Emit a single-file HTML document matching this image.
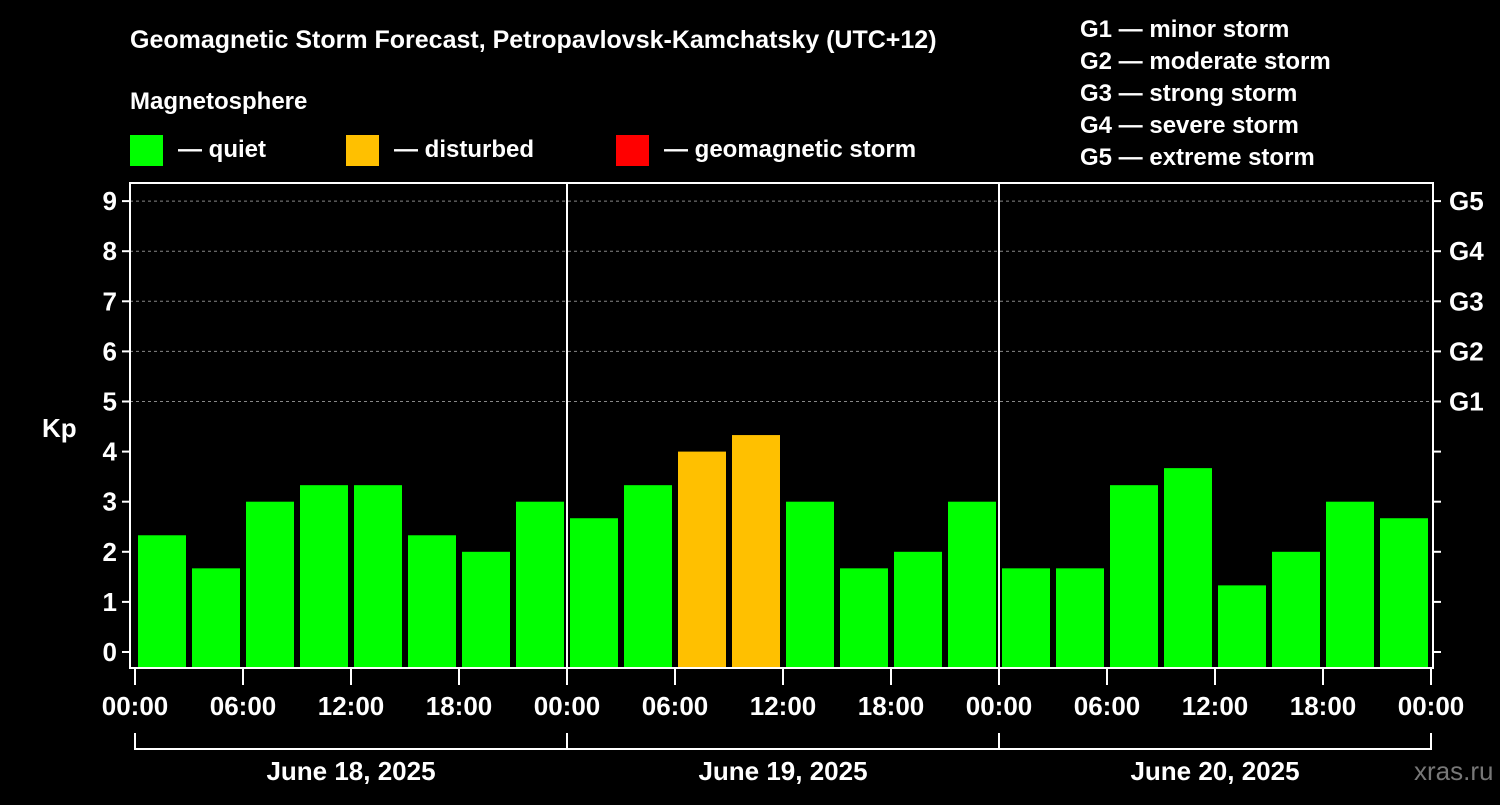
<!DOCTYPE html>
<html><head><meta charset="utf-8"><style>
body{margin:0;background:#000;width:1500px;height:800px;overflow:hidden}
svg text{font-family:"Liberation Sans",sans-serif;font-weight:bold;fill:#fff}
</style></head><body>
<svg id="c" width="1500" height="800" xmlns="http://www.w3.org/2000/svg">
<text x="130" y="48" font-size="25">Geomagnetic Storm Forecast, Petropavlovsk-Kamchatsky (UTC+12)</text>
<text x="130" y="109" font-size="24">Magnetosphere</text>
<rect x="130" y="135" width="33" height="31" fill="#00ff00"/>
<text x="178" y="157" font-size="24">— quiet</text>
<rect x="346" y="135" width="33" height="31" fill="#ffc000"/>
<text x="394" y="157" font-size="24">— disturbed</text>
<rect x="616" y="135" width="33" height="31" fill="#ff0000"/>
<text x="664" y="157" font-size="24">— geomagnetic storm</text>
<g font-size="24">
<text x="1080" y="37">G1 — minor storm</text>
<text x="1080" y="69">G2 — moderate storm</text>
<text x="1080" y="101">G3 — strong storm</text>
<text x="1080" y="133">G4 — severe storm</text>
<text x="1080" y="165">G5 — extreme storm</text>
</g>
<text x="42" y="437" font-size="26">Kp</text>
<text x="1414" y="780" font-size="26" fill="#777" style="fill:#777;font-weight:normal">xras.ru</text>
<g id="plot"></g>
</svg>
<script>
const values=[2.33,1.67,3,3.33,3.33,2.33,2,3, 2.67,3.33,4,4.33,3,1.67,2,3, 1.67,1.67,3.33,3.67,1.33,2,3,2.67];
const yTicks=[0,1,2,3,4,5,6,7,8,9];
const gLabels=["G1","G2","G3","G4","G5"];
const xLabels=["00:00","06:00","12:00","18:00","00:00","06:00","12:00","18:00","00:00","06:00","12:00","18:00","00:00"];
const days=["June 18, 2025","June 19, 2025","June 20, 2025"];
const NS="http://www.w3.org/2000/svg";
const g=document.getElementById('plot');
const L=130,R=1433,T=183,B=668;
function y(v){return 652-50.1*v;}
function x(h){return 135+18*h;}
function mk(t,a){const e=document.createElementNS(NS,t);for(const k in a)e.setAttribute(k,a[k]);g.appendChild(e);return e;}
for(let v=5;v<=9;v++){const e=mk('line',{x1:L,x2:R,y1:y(v),y2:y(v),stroke:'#888','stroke-dasharray':'3,3','stroke-width':1});

}
values.forEach((v,i)=>{
 const e=mk('rect',{x:x(i*3)+3,y:y(v),width:48,height:B-y(v),fill:v>=5?'#ff0000':(v>=4?'#ffc000':'#00ff00')});
 
 
});
[1,2].forEach(d=>{const e=mk('line',{x1:x(d*24),x2:x(d*24),y1:T,y2:B,stroke:'#fff','stroke-width':2});

});
const fr=mk('rect',{x:L,y:T,width:R-L,height:B-T,fill:'none',stroke:'#fff','stroke-width':2});


yTicks.forEach(v=>{
 mk('line',{x1:L-8,x2:L,y1:y(v),y2:y(v),stroke:'#fff','stroke-width':2});
 mk('line',{x1:R,x2:R+8,y1:y(v),y2:y(v),stroke:'#fff','stroke-width':2});
 const t=mk('text',{x:L-13,y:y(v)+9,'font-size':26,'text-anchor':'end'});t.textContent=v;
 
 
 if(v>=5){const r=mk('text',{x:1449,y:y(v)+9,'font-size':26});r.textContent=gLabels[v-5];
 
 }
});
xLabels.forEach((s,i)=>{
 mk('line',{x1:x(i*6),x2:x(i*6),y1:B,y2:B+17,stroke:'#fff','stroke-width':2});
 const t=mk('text',{x:x(i*6),y:715,'font-size':26,'text-anchor':'middle'});t.textContent=s;
 
 
});
mk('line',{x1:x(0),x2:x(72),y1:749,y2:749,stroke:'#fff','stroke-width':2});
for(let d=0;d<=3;d++)mk('line',{x1:x(d*24),x2:x(d*24),y1:733,y2:750,stroke:'#fff','stroke-width':2});
days.forEach((s,i)=>{const t=mk('text',{x:x(i*24+12),y:780,'font-size':26,'text-anchor':'middle'});t.textContent=s;
 
 });
</script>
</body></html>
